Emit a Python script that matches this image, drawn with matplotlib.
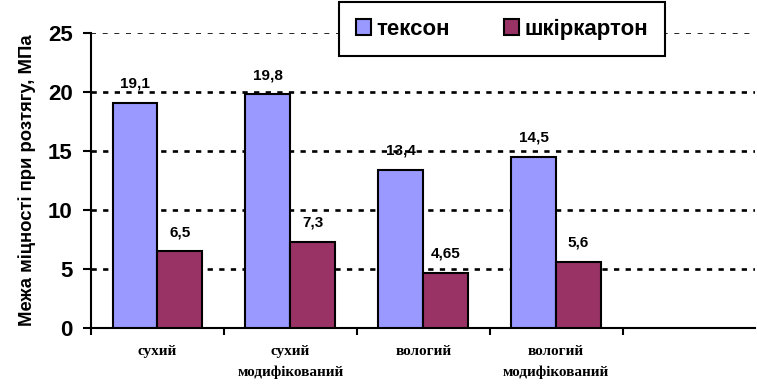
import numpy as np
import matplotlib.pyplot as plt

# categories and measured tensile strength, MPa
categories = ["сухий", "сухий\nмодифікований", "вологий", "вологий\nмодифікований", ""]
tekson = [19.1, 19.8, 13.4, 14.5]
shkirkarton = [6.5, 7.3, 4.65, 5.6]
tekson_labels = ["19,1", "19,8", "13,4", "14,5"]
shkirkarton_labels = ["6,5", "7,3", "4,65", "5,6"]
series_names = ["тексон", "шкіркартон"]

fig = plt.figure(figsize=(7.57, 3.85), dpi=100)
ax = fig.add_axes([0.120, 0.148, 0.878, 0.766])

w = 0.337
x = np.arange(len(tekson))
b1 = ax.bar(x - w / 2, tekson, w, color="#9999FF", edgecolor="black", linewidth=1.5,
            label=series_names[0], zorder=3)
b2 = ax.bar(x + w / 2, shkirkarton, w, color="#993366", edgecolor="black", linewidth=1.5,
            label=series_names[1], zorder=3)

for bars, labels in [(b1, tekson_labels), (b2, shkirkarton_labels)]:
    for rect, lab in zip(bars, labels):
        ax.annotate(lab, (rect.get_x() + rect.get_width() / 2, rect.get_height()),
                    xytext=(0, 11), textcoords="offset points", ha="center", va="baseline",
                    fontsize=11, fontweight="bold", family="Liberation Sans")

ax.set_xlim(-0.5, len(categories) - 0.5)
ax.set_ylim(0, 25)
ax.set_yticks([0, 5, 10, 15, 20, 25])
ax.set_yticklabels(["0", "5", "10", "15", "20", "25"], fontsize=16, fontweight="bold",
                   family="Liberation Sans")

# dashed grid lines
for v in [5, 10, 15, 20]:
    ax.axhline(v, color="black", linewidth=1.9, linestyle=(0, (2.0, 2.4)), zorder=1)
ax.axhline(25, color="black", linewidth=1.2, linestyle=(0, (3.0, 4.0)), zorder=1)

# category ticks sit between groups, labels in the middle
ax.set_xticks(np.arange(len(categories)) - 0.5)
ax.set_xticklabels([])
ax.set_xticks(np.arange(len(categories)), minor=True)
ax.set_xticklabels(categories, minor=True, fontsize=11, fontweight="bold",
                   family="Liberation Serif", linespacing=1.75)
ax.tick_params(axis="x", which="minor", length=0, pad=12)
ax.tick_params(axis="x", which="major", length=5, width=1.5, direction="out")
ax.tick_params(axis="y", length=6, width=1.5, direction="out", pad=7)

for s in ["top", "right"]:
    ax.spines[s].set_visible(False)
ax.spines["left"].set_linewidth(1.5)
ax.spines["bottom"].set_linewidth(1.5)

ax.set_ylabel("Межа міцності при розтягу, МПа", fontsize=13.3, fontweight="bold",
              family="Liberation Sans", labelpad=9)

leg = fig.legend(loc="center", bbox_to_anchor=(502 / 757, 1 - 29 / 385), ncol=2,
                 frameon=True, fancybox=False, edgecolor="black", framealpha=1,
                 handles=[b1, b2], labels=series_names,
                 prop={"family": "Liberation Sans", "weight": "bold", "size": 16},
                 handlelength=0.7, handleheight=0.7, handletextpad=0.25, columnspacing=2.4,
                 borderpad=0.75, borderaxespad=0)
leg.get_frame().set_linewidth(1.5)
leg.set_zorder(5)

fig.savefig("out.png", dpi=100)
